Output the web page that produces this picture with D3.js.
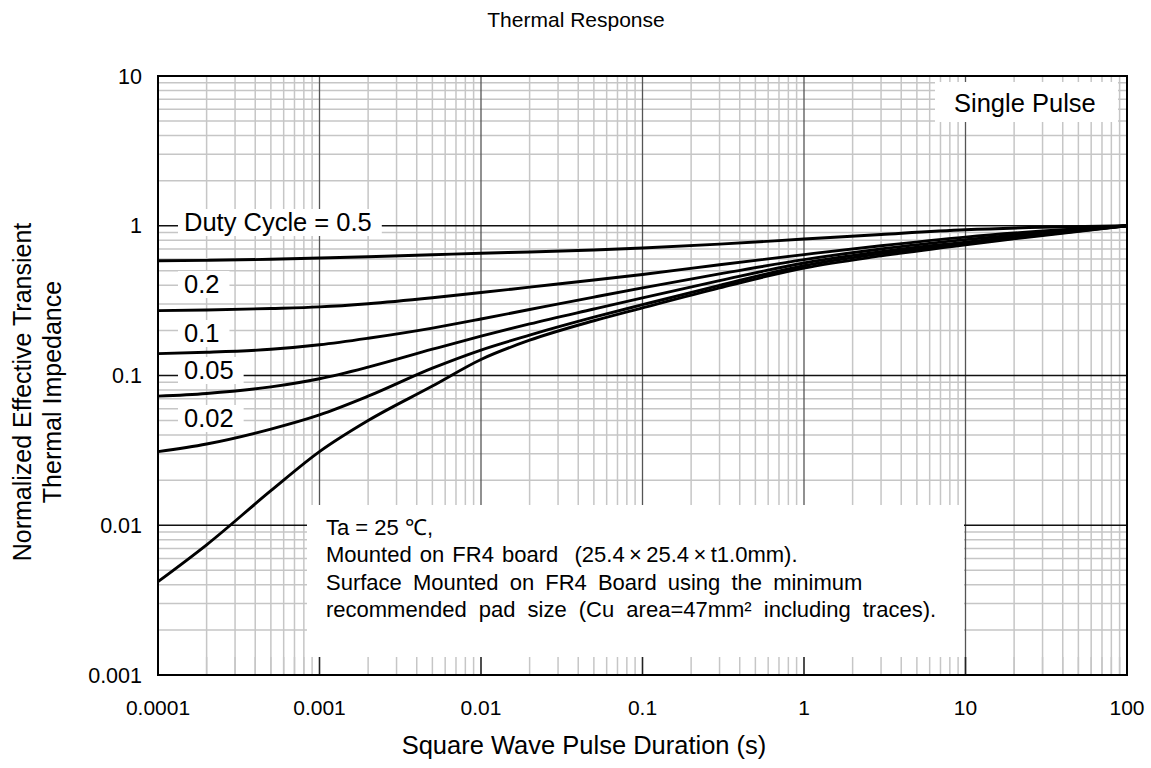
<!DOCTYPE html>
<html><head><meta charset="utf-8">
<script src="https://cdn.jsdelivr.net/npm/d3@7"></script>
<style>
body{margin:0;background:#fff}
svg{display:block;font-family:"Liberation Sans",Arial,Helvetica,sans-serif}
</style>
</head><body>
<svg id="chart" width="1151" height="768"></svg>
<script>
// Pulse durations (s) at which each curve is sampled
const pulseTimes = [1e-4, 2e-4, 5e-4, 1e-3, 2e-3, 5e-3, 0.01, 0.02, 0.05, 0.1, 0.3, 1, 3, 10, 30, 100];

// Normalized effective transient thermal impedance per duty cycle
const duty050 = [0.584, 0.5875, 0.597, 0.609, 0.621, 0.640, 0.655, 0.668, 0.688, 0.710, 0.754, 0.815, 0.875, 0.940, 0.977, 1.0];
const duty020 = [0.271, 0.2739, 0.2802, 0.2871, 0.3015, 0.3305, 0.358, 0.389, 0.434, 0.473, 0.549, 0.642, 0.736, 0.840, 0.922, 1.0];
const duty010 = [0.140, 0.1429, 0.1496, 0.1604, 0.1774, 0.2074, 0.2383, 0.2757, 0.334, 0.385, 0.477, 0.594, 0.700, 0.808, 0.902, 1.0];
const duty005 = [0.0728, 0.0759, 0.0839, 0.0951, 0.1138, 0.1498, 0.1832, 0.221, 0.278, 0.330, 0.430, 0.564, 0.672, 0.778, 0.883, 1.0];
const duty002 = [0.031, 0.0349, 0.0439, 0.0546, 0.0728, 0.112, 0.148, 0.186, 0.245, 0.297, 0.400, 0.541, 0.652, 0.762, 0.870, 1.0];
const singlePulse = [0.0042, 0.0074, 0.0170, 0.031, 0.050, 0.085, 0.128, 0.172, 0.232, 0.283, 0.385, 0.522, 0.629, 0.747, 0.861, 1.0];

const seriesList = [duty050, duty020, duty010, duty005, duty002, singlePulse];

// Axis ticks and their labels
const xTickValues = [1e-4, 1e-3, 0.01, 0.1, 1, 10, 100];
const xTickLabels = ["0.0001", "0.001", "0.01", "0.1", "1", "10", "100"];
const yTickValues = [0.001, 0.01, 0.1, 1, 10];
const yTickLabels = ["0.001", "0.01", "0.1", "1", "10"];

// Curve labels
const curveLabels = ["Duty Cycle = 0.5", "0.2", "0.1", "0.05", "0.02"];
const singleLabel = "Single Pulse";
const noteLines = [
  "Ta = 25 \u2103,",
  "Mounted on FR4 board  (25.4\u2009\u00d7\u200925.4\u2009\u00d7\u2009t1.0mm).",
  "Surface Mounted on FR4 Board using the minimum",
  "recommended pad size (Cu area=47mm\u00b2 including traces)."
];
const noteWordSpacing = [0, 2, 5, 6];

const svg = d3.select("#chart");
const L = 158, R = 1127, T = 76, B = 675;

const x = d3.scaleLog().domain([1e-4, 100]).range([L, R]);
const y = d3.scaleLog().domain([0.001, 10]).range([B, T]);

// minor values: 2..9 in every decade
function minors(lo, hi) {
  const out = [];
  for (let e = Math.log10(lo); e < Math.log10(hi); e++) {
    for (let k = 2; k <= 9; k++) out.push(k * Math.pow(10, e));
  }
  return out;
}
const xMinor = minors(1e-4, 100);
const yMinor = minors(0.001, 10);

const grid = svg.append("g");
grid.selectAll(".vmin").data(xMinor).join("line")
  .attr("x1", d => x(d)).attr("x2", d => x(d)).attr("y1", T).attr("y2", B)
  .attr("stroke", "#c6c6c6").attr("stroke-width", 1.5);
grid.selectAll(".hmin").data(yMinor).join("line")
  .attr("x1", L).attr("x2", R).attr("y1", d => y(d)).attr("y2", d => y(d))
  .attr("stroke", "#c6c6c6").attr("stroke-width", 1.5);
grid.selectAll(".vmaj").data(xTickValues).join("line")
  .attr("x1", d => x(d)).attr("x2", d => x(d)).attr("y1", T).attr("y2", B)
  .attr("stroke", "#555").attr("stroke-width", 1.3);
grid.selectAll(".hmaj").data(yTickValues).join("line")
  .attr("x1", L).attr("x2", R).attr("y1", d => y(d)).attr("y2", d => y(d))
  .attr("stroke", "#111").attr("stroke-width", 1.3);

// white note panel over the grid
svg.append("rect").attr("x", 307).attr("y", 505).attr("width", 657).attr("height", B - 505)
  .attr("fill", "#fff");

// inner ticks along the bottom edge
const ticks = svg.append("g");
ticks.selectAll("line.mn").data(xMinor).join("line")
  .attr("x1", d => x(d)).attr("x2", d => x(d)).attr("y1", B - 18).attr("y2", B)
  .attr("stroke", "#c6c6c6").attr("stroke-width", 1.5);
ticks.selectAll("line.mj").data(xTickValues).join("line")
  .attr("x1", d => x(d)).attr("x2", d => x(d)).attr("y1", B - 18).attr("y2", B)
  .attr("stroke", "#222").attr("stroke-width", 1.6);

// curve labels with white backing
const labelPos = [
  {x: 184, y: 231}, {x: 184, y: 293}, {x: 184, y: 342}, {x: 184, y: 379}, {x: 184, y: 427}
];
const labelG = svg.append("g");
curveLabels.forEach((t, i) => {
  const g = labelG.append("g");
  const rect = g.append("rect").attr("fill", "#fff");
  const txt = g.append("text").attr("x", labelPos[i].x).attr("y", labelPos[i].y)
    .attr("font-size", 25.5).attr("fill", "#000").text(t);
  const bb = txt.node().getBBox();
  rect.attr("x", bb.x - 6).attr("y", bb.y + 1).attr("width", bb.width + 16).attr("height", bb.height - 1);
});

// single pulse label
svg.append("rect").attr("x", 935).attr("y", 82).attr("width", 183).attr("height", 40).attr("fill", "#fff");
svg.append("text").attr("x", 954).attr("y", 112).attr("font-size", 25.5).text(singleLabel);

// curves
const line = d3.line().x(d => x(d[0])).y(d => y(d[1])).curve(d3.curveMonotoneX);
svg.append("g").selectAll("path").data(seriesList).join("path")
  .attr("d", s => line(pulseTimes.map((t, i) => [t, s[i]])))
  .attr("fill", "none").attr("stroke", "#000").attr("stroke-width", 2.9)
  .attr("stroke-linejoin", "round");

// frame
svg.append("rect").attr("x", L).attr("y", T).attr("width", R - L).attr("height", B - T)
  .attr("fill", "none").attr("stroke", "#000").attr("stroke-width", 2);

// note text
noteLines.forEach((t, i) => {
  svg.append("text").attr("x", 326).attr("y", 535 + i * 27.3)
    .attr("font-size", 22).attr("fill", "#000")
    .style("white-space", "pre").style("word-spacing", noteWordSpacing[i] + "px")
    .text(t);
});

// tick labels
svg.append("g").selectAll("text").data(xTickValues).join("text")
  .attr("x", d => x(d)).attr("y", 715).attr("text-anchor", "middle")
  .attr("font-size", 21).text((d, i) => xTickLabels[i]);
svg.append("g").selectAll("text").data(yTickValues).join("text")
  .attr("x", 142).attr("y", d => y(d)).attr("dy", "0.36em").attr("text-anchor", "end")
  .attr("font-size", 21.5).text((d, i) => yTickLabels[i]);

// titles
svg.append("text").attr("x", 576).attr("y", 27).attr("text-anchor", "middle")
  .attr("font-size", 21).text("Thermal Response");
svg.append("text").attr("x", 584).attr("y", 754).attr("text-anchor", "middle")
  .attr("font-size", 25.5).text("Square Wave Pulse Duration (s)");
const yl = svg.append("text").attr("transform", "translate(0,392) rotate(-90)")
  .attr("text-anchor", "middle").attr("font-size", 25);
yl.append("tspan").attr("x", 0).attr("y", 31).text("Normalized Effective Transient");
yl.append("tspan").attr("x", 0).attr("y", 61).text("Thermal Impedance");
</script>
</body></html>
